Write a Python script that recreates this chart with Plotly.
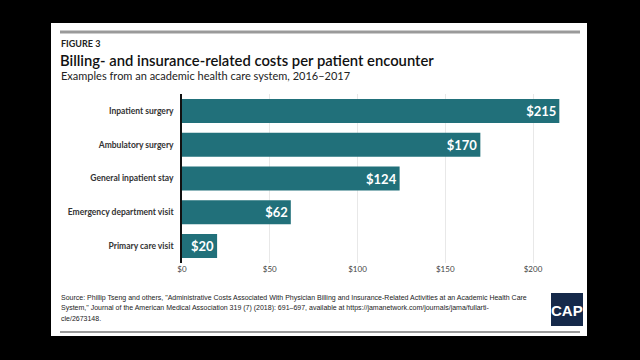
import plotly.graph_objects as go

categories = ["Inpatient surgery", "Ambulatory surgery", "General inpatient stay",
              "Emergency department visit", "Primary care visit"]
costs = [215, 170, 124, 62, 20]
value_labels = ["$215", "$170", "$124", "$62", "$20"]
tick_vals = [0, 50, 100, 150, 200]
tick_text = ["$0", "$50", "$100", "$150", "$200"]

W, H = 640, 360
L, R, T, B = 182, 64, 94, 97
PW, PH = W - L - R, H - T - B

def px(x):
    return (x - L) / PW

def py(y):
    return (H - B - y) / PH

TEAL = "#21707a"
FONT = "Lato, 'Open Sans', sans-serif"
NARROW = "'Liberation Sans Narrow', 'Liberation Sans', sans-serif"

fig = go.Figure(go.Bar(
    x=costs, y=categories, orientation="h",
    marker=dict(color=TEAL, line=dict(width=0)),
    text=value_labels, textposition="inside", insidetextanchor="end",
    textfont=dict(color="white", size=13, family="Lato, sans-serif", weight="bold"),
    cliponaxis=False, hoverinfo="skip",
))

shapes = [
    dict(type="rect", xref="paper", yref="paper", x0=px(51), x1=px(587), y0=py(23), y1=py(336),
         fillcolor="white", line=dict(width=0), layer="below"),
    dict(type="line", xref="paper", yref="paper", x0=px(60), x1=px(580), y0=py(32), y1=py(32),
         line=dict(color="#9a9a9a", width=3)),
    dict(type="line", xref="paper", yref="paper", x0=px(60), x1=px(580), y0=py(332), y1=py(332),
         line=dict(color="#9a9a9a", width=2)),
    dict(type="rect", xref="paper", yref="paper", x0=px(551), x1=px(583), y0=py(293), y1=py(326),
         fillcolor="#15294a", line=dict(width=0)),
]

ann = [
    dict(text="<b>FIGURE 3</b>", x=px(59), y=py(43), font=dict(size=9, color="#222", family=FONT)),
    dict(text="Billing- and insurance-related costs per patient encounter", x=px(58), y=py(60),
         font=dict(size=14.8, color="#111", family=FONT, weight=600)),
    dict(text="Examples from an academic health care system, 2016–2017", x=px(59), y=py(76),
         font=dict(size=11, color="#222", family=FONT)),
    dict(text="Source: Phillip Tseng and others, \"Administrative Costs Associated With Physician Billing and Insurance-Related Activities at an Academic Health Care",
         x=px(59), y=py(298), font=dict(size=7, color="#222", family=NARROW)),
    dict(text="System,\" Journal of the American Medical Association 319 (7) (2018): 691–697, available at https://jamanetwork.com/journals/jama/fullarti-",
         x=px(59), y=py(308), font=dict(size=7, color="#222", family=NARROW)),
    dict(text="cle/2673148.", x=px(59), y=py(318), font=dict(size=7, color="#222", family=NARROW)),
]
annotations = []
for a in ann:
    a.update(xref="paper", yref="paper", xanchor="left", yanchor="middle", showarrow=False)
    annotations.append(a)
annotations.append(dict(text="<b>CAP</b>", xref="paper", yref="paper", x=px(567), y=py(310),
                        xanchor="center", yanchor="middle", showarrow=False,
                        font=dict(size=15, color="white", family=NARROW)))

fig.update_layout(
    width=W, height=H,
    margin=dict(l=L, r=R, t=T, b=B),
    paper_bgcolor="black", plot_bgcolor="rgba(0,0,0,0)",
    bargap=0.29, showlegend=False,
    shapes=shapes, annotations=annotations,
    xaxis=dict(range=[0, PW / 1.755], tickvals=tick_vals, ticktext=tick_text,
               showgrid=True, gridcolor="#e8e8e8", gridwidth=1, zeroline=False,
               tickfont=dict(size=8, color="#444", family=FONT), fixedrange=True),
    yaxis=dict(autorange="reversed", showline=True, linecolor="#111", linewidth=1.5,
               ticks="", ticklabelstandoff=5,
               tickfont=dict(size=8.5, color="#333", family=FONT, weight="bold"), fixedrange=True),
)

fig.write_html("out.html", config={"displayModeBar": False},
               post_script="document.body.style.margin='0';document.body.style.background='black';")
